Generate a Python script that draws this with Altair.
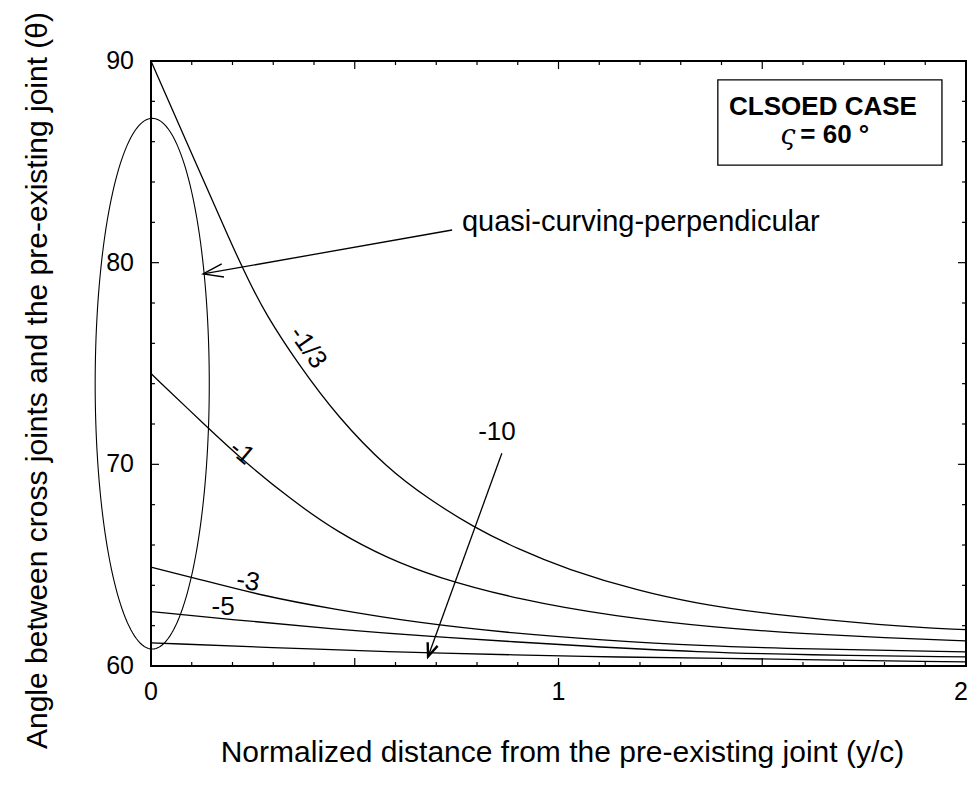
import altair as alt
import numpy as np
import pandas as pd

# ---- curves: angle theta (deg) vs normalized distance y/c, one per stress ratio
x_m13 = [0.0, 0.1, 0.2, 0.24, 0.28, 0.36, 0.46, 0.58, 0.68, 0.79, 0.9, 1.02, 1.2, 1.34, 1.5, 1.8, 2.0]
y_m13 = [90.0, 85.4, 80.8, 79.1, 77.5, 75.0, 72.3, 69.8, 68.3, 66.9, 65.8, 64.8, 63.7, 63.1, 62.6, 62.0, 61.8]

x_m1 = [0.0, 0.14, 0.22, 0.34, 0.46, 0.58, 0.7, 0.9, 1.14, 1.39, 1.6, 1.8, 2.0]
y_m1 = [74.5, 71.8, 70.3, 68.3, 66.6, 65.35, 64.4, 63.3, 62.45, 61.9, 61.6, 61.4, 61.25]

x_m3 = [0.0, 0.1, 0.28, 0.44, 0.65, 0.9, 1.1, 1.35, 1.6, 2.0]
y_m3 = [64.9, 64.4, 63.45, 62.85, 62.15, 61.6, 61.3, 61.0, 60.85, 60.7]

x_m5 = [0.0, 0.2, 0.44, 0.69, 1.09, 1.34, 1.6, 2.0]
y_m5 = [62.7, 62.3, 61.85, 61.45, 60.95, 60.7, 60.55, 60.45]

x_m10 = [0.0, 0.44, 0.69, 1.09, 1.34, 2.0]
y_m10 = [61.15, 60.8, 60.65, 60.45, 60.4, 60.2]

series_names = ["-1/3", "-1", "-3", "-5", "-10"]
series_x = [x_m13, x_m1, x_m3, x_m5, x_m10]
series_y = [y_m13, y_m1, y_m3, y_m5, y_m10]

# curve labels: text, x, y, rotation
label_text = ["-1/3", "-1", "-3", "-5", "-10"]
label_x = [0.385, 0.223, 0.238, 0.177, 0.849]
label_y = [75.8, 70.6, 64.2, 62.95, 71.6]
label_angle = [55, 40, 10, 0, 0]

# axis tick positions
x_major = [0.5, 1.0, 1.5]
x_minor = [0.1, 0.2, 0.3, 0.4, 0.6, 0.7, 0.8, 0.9, 1.1, 1.2, 1.3, 1.4, 1.6, 1.7, 1.8, 1.9]
y_major = [70, 80]
y_minor = [62, 64, 66, 68, 72, 74, 76, 78, 82, 84, 86, 88]
x_labels = [0, 1, 2]
y_labels = [60, 70, 80, 90]

FONT = "Liberation Sans"

rows = []
for name, xs, ys in zip(series_names, series_x, series_y):
    for i, (a, b) in enumerate(zip(xs, ys)):
        rows.append({"series": name, "i": i, "x": a, "y": b})
curves = pd.DataFrame(rows)

x_scale = alt.Scale(domain=[0, 2], nice=False, zero=False)
y_scale = alt.Scale(domain=[60, 90], nice=False, zero=False)

# axes carry only the titles; tick labels are drawn as text marks below
x_axis = alt.Axis(values=x_labels, labels=False, ticks=False, domain=False, grid=False,
                  title="Normalized distance from the pre-existing joint (y/c)",
                  titleFontSize=30, titleFont=FONT, titleFontWeight="normal", titleColor="black",
                  titleX=411, titleY=86, titleBaseline="middle", titleAlign="center")
y_axis = alt.Axis(values=y_labels, labels=False, ticks=False, domain=False, grid=False,
                  title="Angle between cross joints and the pre-existing joint (θ)",
                  titleFontSize=30, titleFont=FONT, titleFontWeight="normal", titleColor="black",
                  titleAngle=270, titleX=-114, titleY=319, titleBaseline="middle", titleAlign="center")

X = alt.X("x:Q", scale=x_scale, axis=x_axis)
Y = alt.Y("y:Q", scale=y_scale, axis=y_axis)

lines = alt.Chart(curves).mark_line(color="black", strokeWidth=1.3, interpolate="basis").encode(
    x=X, y=Y, detail="series:N", order="i:Q"
)

# ellipse around the region next to the pre-existing joint
t = np.linspace(0, 2 * np.pi, 181)
ell = pd.DataFrame({"i": np.arange(t.size),
                    "x": 0.003 + 0.14 * np.cos(t),
                    "y": 74.0 + 13.16 * np.sin(t)})
ellipse = alt.Chart(ell).mark_line(color="black", strokeWidth=1.1).encode(x=X, y=Y, order="i:Q")

# inward ticks on all four sides
MAJ_X, MIN_X = 0.0196, 0.0098   # horizontal length in y/c units
MAJ_Y, MIN_Y = 0.40, 0.20       # vertical length in degrees
tk = []
for v in x_major + x_minor:
    ln = MAJ_Y if v in x_major else MIN_Y
    tk.append({"x": v, "x2": v, "y": 60, "y2": 60 + ln})
    tk.append({"x": v, "x2": v, "y": 90, "y2": 90 - ln})
for v in y_major + y_minor:
    ln = MAJ_X if v in y_major else MIN_X
    tk.append({"x": 0, "x2": ln, "y": v, "y2": v})
    tk.append({"x": 2, "x2": 2 - ln, "y": v, "y2": v})
ticks = alt.Chart(pd.DataFrame(tk)).mark_rule(color="black", strokeWidth=1.2).encode(
    x=X, x2="x2:Q", y=Y, y2="y2:Q"
)

# tick labels
xl = pd.DataFrame({"x": x_labels, "y": [60] * len(x_labels), "t": [str(v) for v in x_labels]})
x_ticklabels_inner = alt.Chart(xl[xl["x"] < 2]).mark_text(
    font=FONT, fontSize=25, color="black", baseline="top", align="center", dy=14
).encode(x=X, y=Y, text="t:N")
x_ticklabels_end = alt.Chart(xl[xl["x"] == 2]).mark_text(
    font=FONT, fontSize=25, color="black", baseline="top", align="center", dy=14, dx=-5
).encode(x=X, y=Y, text="t:N")
yl = pd.DataFrame({"x": [0] * len(y_labels), "y": y_labels, "t": [str(v) for v in y_labels]})
y_ticklabels = alt.Chart(yl).mark_text(
    font=FONT, fontSize=25, color="black", baseline="middle", align="right", dx=-17
).encode(x=X, y=Y, text="t:N")

# annotation arrows
arrows_df = pd.DataFrame({"x": [0.739, 0.861], "x2": [0.128, 0.680],
                          "y": [81.62, 70.55], "y2": [79.44, 60.47]})
arrow_lines = alt.Chart(arrows_df).mark_rule(color="black", strokeWidth=1.3).encode(
    x=X, x2="x2:Q", y=Y, y2="y2:Q"
)
head1 = alt.Chart(pd.DataFrame({"x": [0.128], "y": [79.44]})).mark_point(
    shape="M-0.33,1L0,0L0.33,1", size=1600, angle=260, filled=False,
    color="black", strokeWidth=1.4, opacity=1
).encode(x=X, y=Y)
head2 = alt.Chart(pd.DataFrame({"x": [0.680], "y": [60.47]})).mark_point(
    shape="M-0.4,1L0,0L0.4,1", size=700, angle=200, filled=False,
    color="black", strokeWidth=2.4, opacity=1
).encode(x=X, y=Y)

# curve labels
lab_df = pd.DataFrame({"t": label_text, "x": label_x, "y": label_y, "a": label_angle})
labels = alt.Chart(lab_df).mark_text(font=FONT, fontSize=26, color="black").encode(
    x=X, y=Y, text="t:N", angle=alt.Angle("a:Q", scale=None)
)

quasi = alt.Chart(pd.DataFrame({"x": [0.763], "y": [82.0], "t": ["quasi-curving-perpendicular"]})).mark_text(
    font=FONT, fontSize=29, color="black", align="left", baseline="middle"
).encode(x=X, y=Y, text="t:N")

# case box
box = alt.Chart(pd.DataFrame({"x": [1.391], "x2": [1.941], "y": [84.84], "y2": [89.06]})).mark_rect(
    fill="white", stroke="black", strokeWidth=1.3
).encode(x=X, x2="x2:Q", y=Y, y2="y2:Q")
box_title = alt.Chart(pd.DataFrame({"x": [1.649], "y": [87.72], "t": ["CLSOED CASE"]})).mark_text(
    font=FONT, fontSize=26, fontWeight="bold", color="black", baseline="middle"
).encode(x=X, y=Y, text="t:N")
box_sym = alt.Chart(pd.DataFrame({"x": [1.563], "y": [86.3], "t": ["ς"]})).mark_text(
    font="DejaVu Serif", fontSize=27, fontStyle="italic", color="black", baseline="middle"
).encode(x=X, y=Y, text="t:N")
box_val = alt.Chart(pd.DataFrame({"x": [1.678], "y": [86.33], "t": ["= 60 °"]})).mark_text(
    font=FONT, fontSize=26, fontWeight="bold", color="black", baseline="middle"
).encode(x=X, y=Y, text="t:N")

chart = alt.layer(
    ellipse, lines, ticks, x_ticklabels_inner, x_ticklabels_end, y_ticklabels,
    arrow_lines, head1, head2, labels, quasi,
    box, box_title, box_sym, box_val
).properties(
    width=815, height=605,
    autosize=alt.AutoSizeParams(type="none"),
    padding={"left": 151, "top": 61, "right": 4, "bottom": 132},
    background="white"
).configure_view(stroke="black", strokeWidth=2)

chart.save("out.html", embed_options={"renderer": "svg", "actions": False})
